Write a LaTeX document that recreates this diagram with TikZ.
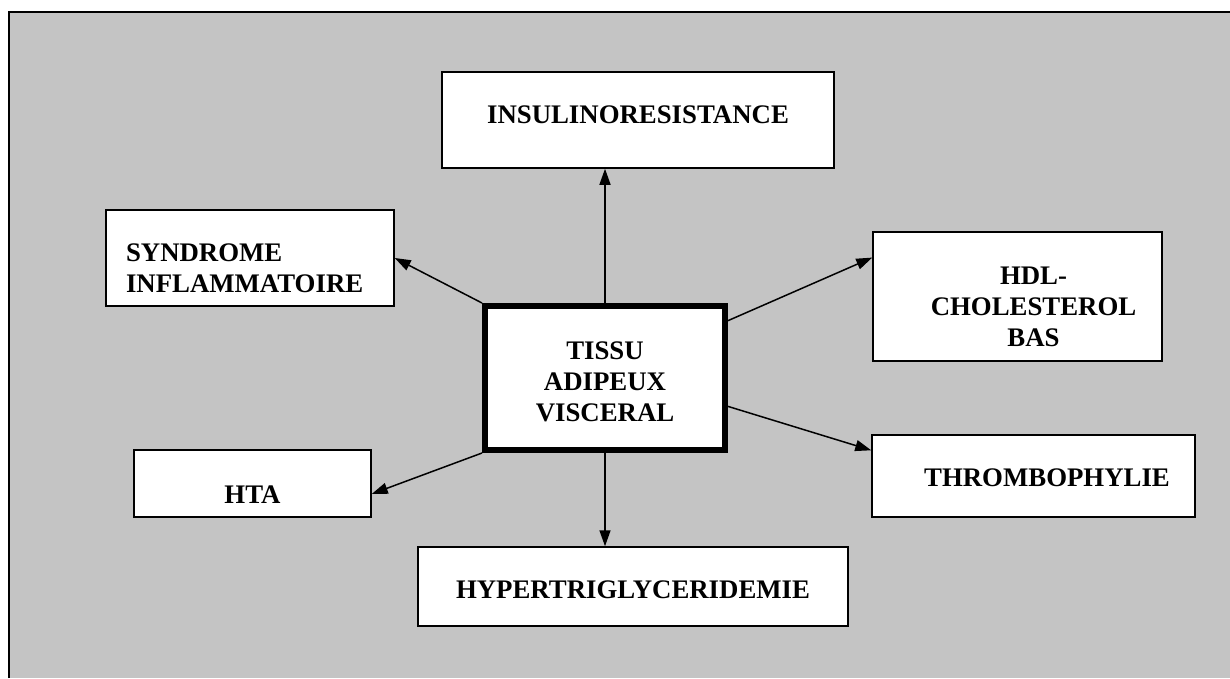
\documentclass[tikz,border=0pt]{standalone}
\usepackage{fontspec}
\setmainfont{Liberation Serif}
\usetikzlibrary{arrows.meta}
\definecolor{speckle}{RGB}{196,196,196}
\newcommand\padtop[1]{\rule{0pt}{#1}}
\begin{document}
\begin{tikzpicture}[x=1pt, y=-1pt, line width=1.5pt,
    font=\fontsize{26.8}{31}\selectfont\bfseries,
    box/.style={draw, fill=white, inner sep=0pt, align=center},
    >={Triangle[length=16pt, width=11pt]}]
    \useasboundingbox (0,0) rectangle (1230,678);
    \fill [speckle] (9,12) rectangle (1230,678);
    \draw (9,678) |- (1230,12);
    \node [box, line width=6pt, minimum width=240pt, minimum height=144pt] (tissu) at (605,378) {\padtop{26pt}TISSU\\ADIPEUX\\VISCERAL};
    \node [box, minimum width=392pt, minimum height=96pt] (insulin) at (638,120) {\rule[-10pt]{0pt}{10pt}INSULINORESISTANCE};
    \node [box, align=left, text width=248pt, inner xsep=20pt, minimum height=96pt] (syndrome) at (250,258) {\padtop{38pt}SYNDROME\\INFLAMMATOIRE};
    \node [box, minimum width=289pt, minimum height=129pt] (hdl) at (1017.5,296.5) {\padtop{38pt}\hspace*{32pt}HDL-\\\hspace*{32pt}CHOLESTEROL\\\hspace*{32pt}BAS};
    \node [box, minimum width=237pt, minimum height=67pt] (hta) at (252.5,483.5) {\padtop{40pt}HTA};
    \node [box, minimum width=323pt, minimum height=82pt] (thrombo) at (1033.5,476) {\padtop{22pt}\hspace*{27pt}THROMBOPHYLIE};
    \node [box, minimum width=430pt, minimum height=79pt] (hyper) at (633,586.5) {\padtop{25pt}HYPERTRIGLYCERIDEMIE};
    \draw [->] (tissu.north) -- (tissu.north |- insulin.south);
    \draw [->] (tissu.north west) -- (syndrome.east);
    \draw [->] (tissu.25) -- (hdl.165);
    \draw [->] (tissu.-13) -- (thrombo.171);
    \draw [->] (tissu.south west) -- (hta.-5);
    \draw [->] (tissu.south) -- (tissu.south |- hyper.north);
\end{tikzpicture}
\end{document}
